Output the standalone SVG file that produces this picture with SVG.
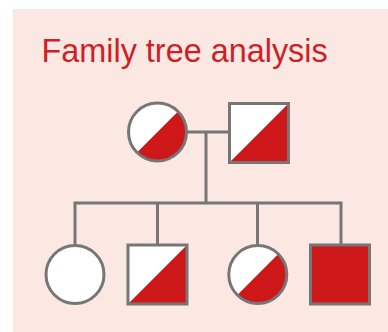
<svg xmlns="http://www.w3.org/2000/svg" width="388" height="332" viewBox="0 0 388 332">
  <style>
    .sym { stroke: #767676; stroke-width: 3; }
    .white { fill: #ffffff; }
    .red { fill: #cd1719; }
    .line { stroke: #767676; stroke-width: 3; fill: none; }
    .title { font-family: "Liberation Sans", Arial, sans-serif; font-size: 32.4px; fill: #cf1f26; }
  </style>
  <defs>
    <clipPath id="clipC"><circle cx="0" cy="0" r="29"/></clipPath>
  </defs>
  <rect x="13" y="9" width="375" height="323" fill="#fbe8e3"/>
  <text class="title" x="41.5" y="61.5">Family tree analysis</text>

  <g id="connectors">
    <path class="line" d="M186 132 H229"/>
    <path class="line" d="M206 132 V203"/>
    <path class="line" d="M75 245 V203 H341 V245"/>
    <path class="line" d="M157.5 203 V245"/>
    <path class="line" d="M257.5 203 V245"/>
  </g>

  <g id="mother" transform="translate(157.5 132)">
    <circle class="white" r="29"/>
    <polygon class="red" points="31,-31 31,31 -31,31" clip-path="url(#clipC)"/>
    <circle class="sym" r="29" fill="none"/>
  </g>

  <g id="father">
    <rect class="white" x="229.5" y="103.5" width="59" height="59"/>
    <polygon class="red" points="288.5,103.5 288.5,162.5 229.5,162.5"/>
    <rect class="sym" x="229.5" y="103.5" width="59" height="59" fill="none"/>
  </g>

  <g id="child1" transform="translate(75 274.5)">
    <circle class="white sym" r="29"/>
  </g>

  <g id="child2">
    <rect class="white" x="128" y="245" width="59" height="59"/>
    <polygon class="red" points="187,245 187,304 128,304"/>
    <rect class="sym" x="128" y="245" width="59" height="59" fill="none"/>
  </g>

  <g id="child3" transform="translate(257.8 274.5)">
    <circle class="white" r="29"/>
    <polygon class="red" points="31,-31 31,31 -31,31" clip-path="url(#clipC)"/>
    <circle class="sym" r="29" fill="none"/>
  </g>

  <g id="child4">
    <rect class="red sym" x="310.5" y="245" width="59" height="59"/>
  </g>
</svg>
